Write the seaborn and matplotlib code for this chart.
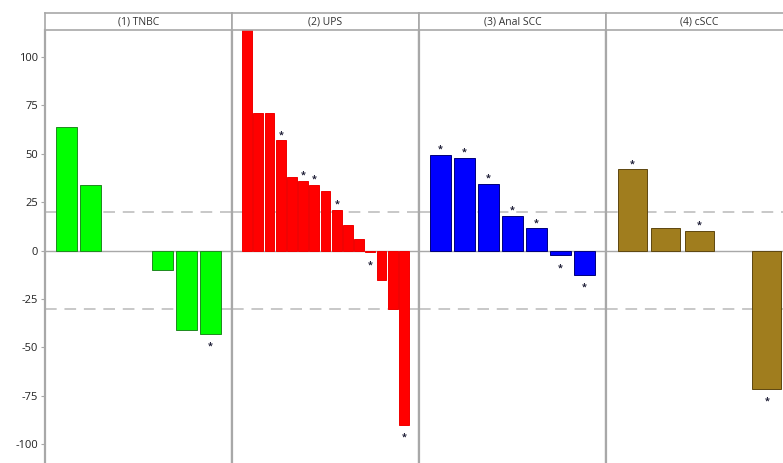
import numpy as np
import pandas as pd
import matplotlib
matplotlib.use("Agg")
import matplotlib.pyplot as plt
import seaborn as sns

sns.set_style("white")
plt.rcParams['font.family'] = ['Open Sans', 'DejaVu Sans']
plt.rcParams['font.size'] = 8
plt.rcParams['axes.unicode_minus'] = False

# best % change per patient, read off the waterfall (nan = no bar in that slot)
panel_titles = ["(1) TNBC", "(2) UPS", "(3) Anal SCC", "(4) cSCC"]
tnbc_change = [64, 34, np.nan, np.nan, -10, -41, -43]
ups_change = [125, 71, 71, 57, 38, 36, 34, 31, 21, 13, 6, -1, -15, -30, -90]
anal_change = [49.5, 48, 34.5, 18, 11.5, -2.5, -12.5]
cscc_change = [42, 11.5, 10, np.nan, -71.5]

tnbc_star = [0, 0, 0, 0, 0, 0, 1]
ups_star = [0, 0, 0, 1, 0, 1, 1, 0, 1, 0, 0, 1, 0, 0, 1]
anal_star = [1, 1, 1, 1, 1, 1, 1]
cscc_star = [1, 0, 1, 0, 1]

bar_colors = ["#00FF00", "#FF0000", "#0000FF", "#A07D1E"]
edge_colors = ["#1F8A1F", "#F00000", "#00007A", "#5E4710"]

thresholds = [20, -30]
yticks = [-100, -75, -50, -25, 0, 25, 50, 75, 100]

changes = [tnbc_change, ups_change, anal_change, cscc_change]
stars = [tnbc_star, ups_star, anal_star, cscc_star]

W, H = 783, 463
fig = plt.figure(figsize=(W / 100, H / 100), dpi=100)

px_per_unit = 1.935
zero_y = 250.5
ymax = (zero_y - 30) / px_per_unit
ymin = (zero_y - H) / px_per_unit

panel_w = 187
grey = "#A8A8A8"

for i, (title, vals, st) in enumerate(zip(panel_titles, changes, stars)):
    left = 45 + i * panel_w
    ax = fig.add_axes([left / W, 0, panel_w / W, (H - 30) / H])
    df = pd.DataFrame({"pos": np.arange(len(vals)), "change": vals, "star": st})
    n = len(df)
    shown = df.dropna(subset=["change"])
    sns.barplot(data=shown, x="pos", y="change", order=list(range(n)), ax=ax,
                color=bar_colors[i], saturation=1, width=0.86,
                edgecolor=edge_colors[i], linewidth=0.7, errorbar=None)
    pad = n * 9.5 / 168
    ax.set_xlim(-0.5 - pad, n - 0.5 + pad)
    ax.set_ylim(ymin, ymax)

    ax.axhline(0, color=grey, lw=1.0, zorder=0)
    for t in thresholds:
        ax.axhline(t, color="#C8C8C8", lw=1.4, ls=(0, (6, 4)), zorder=0)

    for _, row in shown[shown["star"] == 1].iterrows():
        up = row["change"] >= 0
        ax.annotate("*", (row["pos"], row["change"]),
                    xytext=(0, 4 if up else -9), textcoords="offset points",
                    ha="center", va="center", fontsize=6.5, color="#1A1A33",
                    fontweight="bold")

    ax.set_xlabel("")
    ax.set_ylabel("")
    ax.set_xticks([])
    for s in ["top", "bottom"]:
        ax.spines[s].set_visible(False)
    for s in ["left", "right"]:
        ax.spines[s].set_color(grey)
        ax.spines[s].set_linewidth(1.6)
    if i == 0:
        ax.set_yticks(yticks)
        ax.tick_params(axis="y", left=True, length=3, color=grey,
                       labelsize=8, labelcolor="#222222", pad=2)
    else:
        ax.set_yticks([])

    strip = fig.add_axes([left / W, (H - 30) / H, panel_w / W, 17 / H])
    strip.set_xticks([])
    strip.set_yticks([])
    for s in strip.spines.values():
        s.set_color(grey)
        s.set_linewidth(1.2)
    strip.text(0.5, 0.5, title, ha="center", va="center", fontsize=7.5,
               color="#333333", transform=strip.transAxes)

plt.savefig("out.png", dpi=100)
